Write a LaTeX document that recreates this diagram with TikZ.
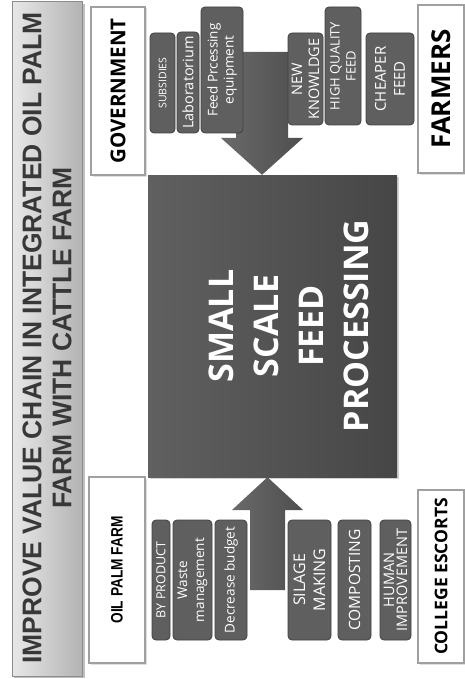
\documentclass[tikz,border=0pt]{standalone}
\usepackage{fontspec}
\setmainfont{Open Sans}
\newfontfamily\titlefont[FakeStretch=0.98]{Liberation Sans}
\newfontfamily\narrowfont[FakeStretch=0.83]{Liberation Sans}
\usepackage{tikz}
\usetikzlibrary{calc,shadows}
\definecolor{framegray}{HTML}{A0A0A0}
\definecolor{boxgray}{HTML}{5F5F5F}
\definecolor{boxedge}{HTML}{404040}
\tikzset{
  actor/.style={draw=framegray, line width=1.2pt, fill=white, rotate=90, inner sep=0pt,
    drop shadow={shadow xshift=1.5pt, shadow yshift=-1.5pt, opacity=0.25}},
  item/.style={draw=boxedge, line width=0.8pt, fill=boxgray, rounded corners=4pt, rotate=90,
    inner sep=0pt, align=center, text=white},
}

\begin{document}
\begin{tikzpicture}[x=1pt,y=-1pt]
\definecolor{titlelight}{HTML}{E8E8E8}\definecolor{titledark}{HTML}{B3B3B3}
\definecolor{titleedge}{HTML}{8C8C8C}\definecolor{titleink}{HTML}{383838}
\definecolor{mainlight}{HTML}{606060}\definecolor{maindark}{HTML}{464646}
\definecolor{arrowlight}{HTML}{6A6A6A}\definecolor{arrowdark}{HTML}{4E4E4E}
\useasboundingbox (0,0) rectangle (465,679);
\fill[black!25] (14,4) rectangle (85,678);
\shade[left color=titlelight, right color=titledark, draw=titleedge, line width=1pt] (12,2) rectangle (82,676);
\node[rotate=90, align=center, text=titleink, font=\titlefont\bfseries\fontsize{27}{30}\selectfont] (title) at (47,338)
  {IMPROVE VALUE CHAIN IN INTEGRATED OIL PALM\\FARM WITH CATTLE FARM};
\node[actor, minimum width=168, minimum height=54, font=\bfseries\fontsize{20.5}{24}\selectfont] (gov) at (118,91) {GOVERNMENT};
\node[actor, minimum width=186, minimum height=56, font=\narrowfont\bfseries\fontsize{16.5}{20}\selectfont] (oilpalm) at (117,570) {OIL PALM FARM};
\node[actor, minimum width=168, minimum height=46, font=\bfseries\fontsize{26}{28}\selectfont] (farmers) at (441,89) {FARMERS};
\node[actor, minimum width=173, minimum height=46, font=\bfseries\fontsize{17.5}{20}\selectfont] (college) at (441,576.5) {COLLEGE ESCORTS};
\node[left color=mainlight, right color=maindark, minimum width=249, minimum height=302, inner sep=0pt,
  drop shadow={shadow xshift=2pt, shadow yshift=-2pt, opacity=0.35}] (main) at (272.5,326) {};
\node[rotate=90, text=white, align=center, font=\bfseries\fontsize{34}{45}\selectfont] (mainlabel) at ([xshift=16pt]main.center)
  {SMALL\\SCALE\\FEED\\PROCESSING};
\coordinate (intip) at (262,0 |- main.north);
\shade[left color=arrowlight, right color=arrowdark] (236,52) -- (288,52) -- (288,138) -- (303,138) -- (intip) -- (221,138) -- (236,138) -- cycle;
\coordinate (outtip) at (267.5,0 |- main.south);
\shade[left color=arrowlight, right color=arrowdark] (250,590) -- (250,510) -- (232,510) -- (outtip) -- (303,510) -- (285,510) -- (285,590) -- cycle;
\node[item, minimum width=100, minimum height=25, font=\fontsize{10.5}{12}\selectfont] (subsidies) at (162.5,83) {SUBSIDIES};
\node[item, minimum width=101, minimum height=22, font=\fontsize{14.5}{16}\selectfont] (lab) at (188,82.5) {Laboratorium};
\node[item, minimum width=126, minimum height=42, font=\fontsize{13.5}{16}\selectfont] (equip) at (222,70) {Feed Prcessing\\equipment};
\node[item, minimum width=92, minimum height=35, font=\fontsize{14.5}{17}\selectfont] (knowledge) at (305.5,79) {NEW\\KNOWLDGE};
\node[item, minimum width=118, minimum height=36, font=\fontsize{13}{16}\selectfont] (quality) at (343,66) {HIGH QUALITY\\FEED};
\node[item, minimum width=92, minimum height=48, font=\fontsize{15}{19}\selectfont] (cheaper) at (390,79) {CHEAPER\\FEED};
\node[item, minimum width=120, minimum height=18, font=\fontsize{12.5}{14}\selectfont] (byproduct) at (161,580) {BY PRODUCT};
\node[item, minimum width=120, minimum height=39, font=\fontsize{13.5}{17}\selectfont] (waste) at (192.5,580) {Waste\\management};
\node[item, minimum width=120, minimum height=32, font=\fontsize{13.5}{16}\selectfont] (budget) at (231,580) {Decrease budget};
\node[item, minimum width=120, minimum height=43, font=\fontsize{16}{20}\selectfont] (silage) at (309.5,580) {SILAGE\\MAKING};
\node[item, minimum width=120, minimum height=33, font=\fontsize{15.5}{18}\selectfont] (compost) at (354.5,580) {COMPOSTING};
\node[item, minimum width=120, minimum height=31, font=\fontsize{14.5}{13}\selectfont] (human) at (395.5,580) {HUMAN\\IMPROVEMENT};
\end{tikzpicture}
\end{document}
